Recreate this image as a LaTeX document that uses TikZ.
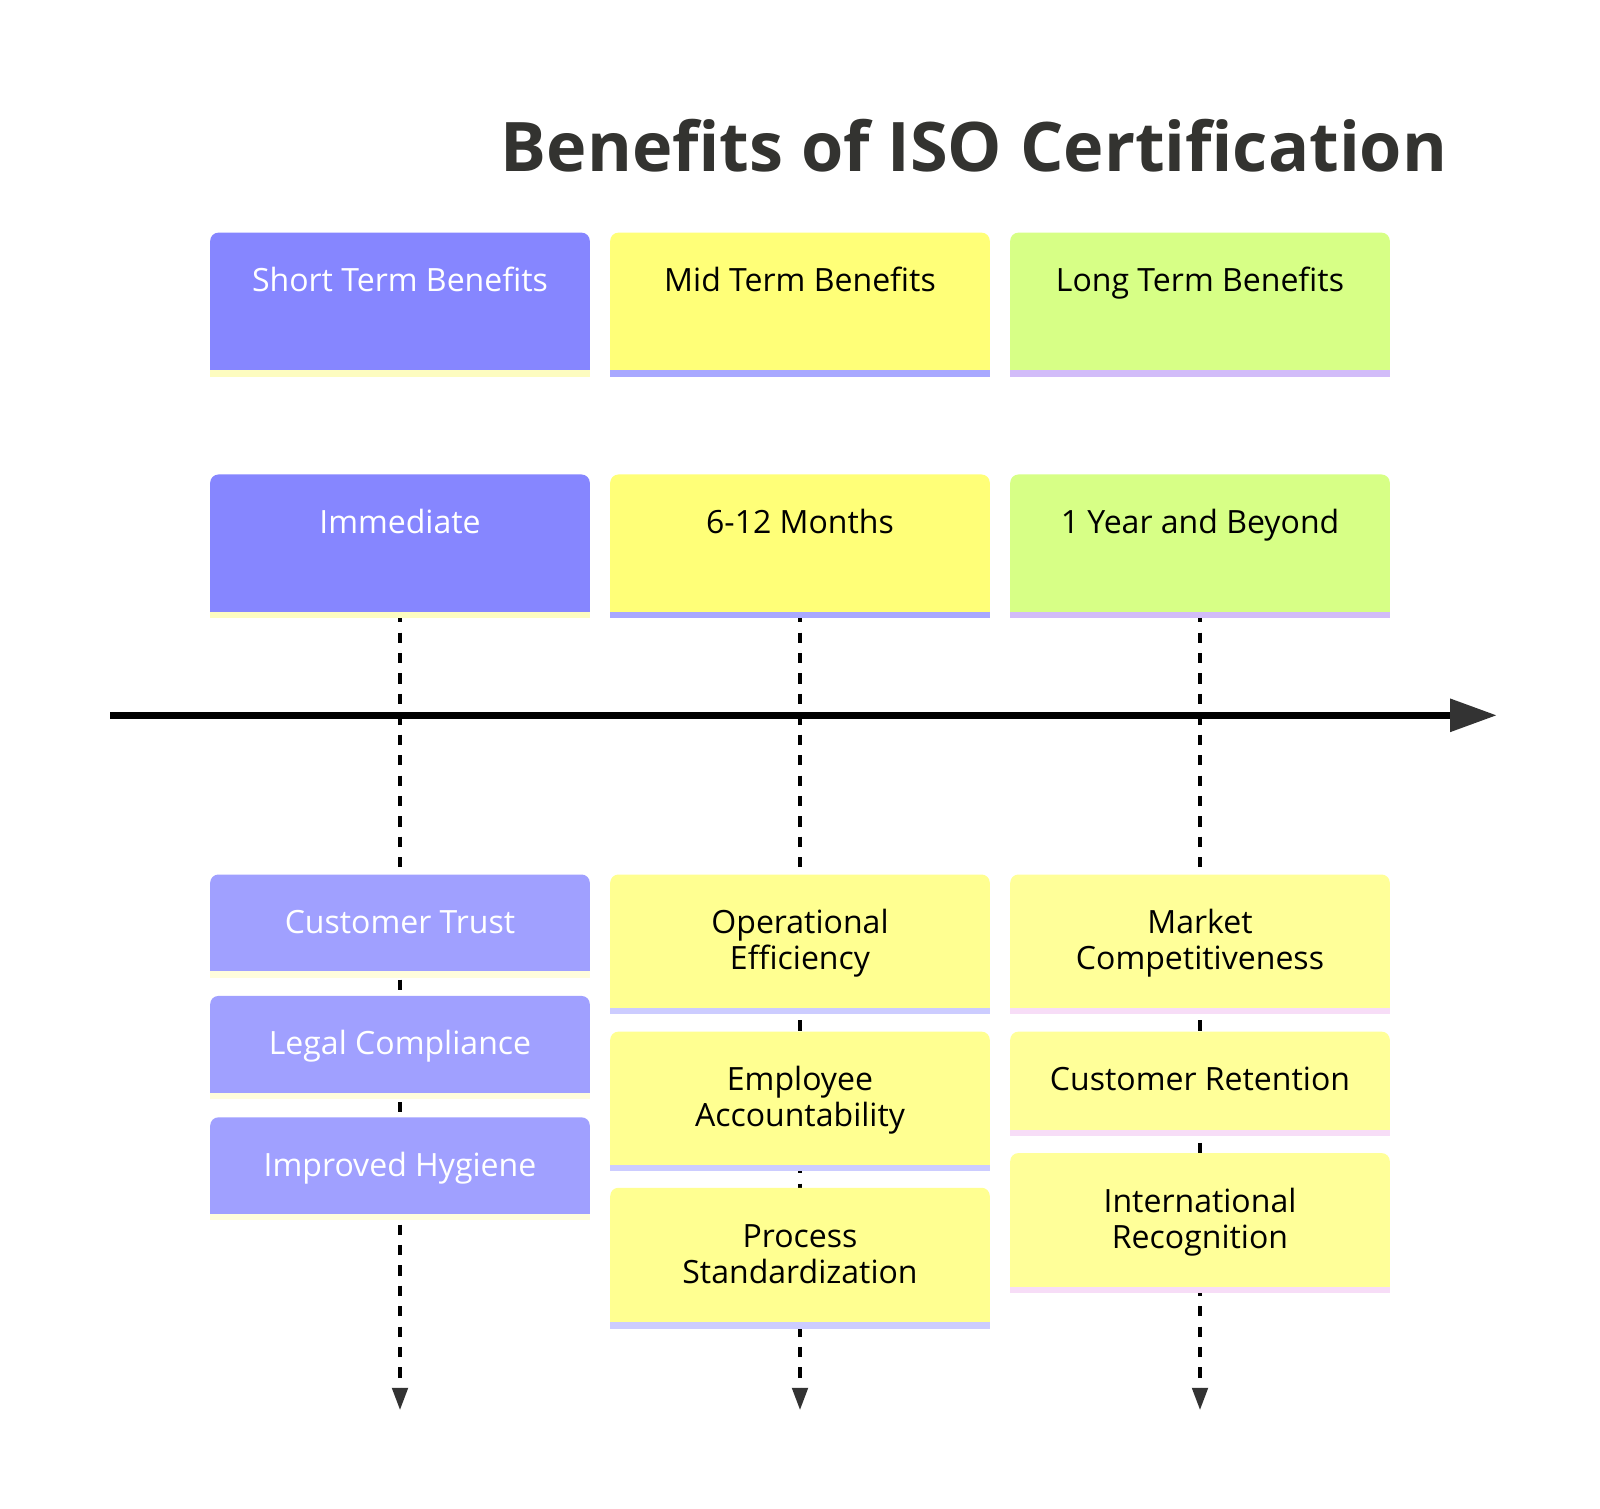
\documentclass[tikz,border=0pt]{standalone}
\usepackage{fontspec}
\setmainfont{Open Sans}
\usetikzlibrary{arrows.meta}
\pgfdeclarelayer{background}
\pgfsetlayers{background,main}
\definecolor{shortsec}{HTML}{8686FF}
\definecolor{shortsecS}{HTML}{FDFCC0}
\definecolor{shortev}{HTML}{A0A0FF}
\definecolor{shortevS}{HTML}{FFFDDC}
\definecolor{midsec}{HTML}{FFFF78}
\definecolor{midsecS}{HTML}{A8A8FF}
\definecolor{midev}{HTML}{FFFF91}
\definecolor{midevS}{HTML}{CCCCFF}
\definecolor{longsec}{HTML}{D7FF86}
\definecolor{longsecS}{HTML}{D2BCF9}
\definecolor{longev}{HTML}{FFFF99}
\definecolor{longevS}{HTML}{F7DDF7}
\definecolor{titlegray}{HTML}{333330}
\definecolor{tipgray}{HTML}{333333}
\tikzset{
  boxbase/.style={rounded corners=8pt, minimum width=372pt, inner sep=0pt, outer sep=0pt, anchor=north},
  lbl/.style={font=\fontsize{31.4}{35.3}\selectfont, align=center, inner sep=0pt},
  evlbl/.style={lbl, yshift=-3pt},
  seclbl/.style={lbl, anchor=base},
  dashline/.style={line width=4pt, dash pattern=on 10pt off 10pt, -{Triangle[length=22pt,width=15pt,color=tipgray]}},
}
% \tlbox{name}{cx}{top}{height}{fill}{stripe}
\newcommand{\tlbox}[6]{%
  \node[boxbase, fill=#5, minimum height=#4] (#1) at (#2,#3) {};
  \fill[#5] (#1.west) rectangle (#1.south east);
  \fill[#6] (#1.south west) rectangle ([yshift=-6pt]#1.south east);
}
\begin{document}
\begin{tikzpicture}[x=1pt,y=-1pt]
\useasboundingbox (0,0) rectangle (1568,1478);

% title
\node[font=\fontsize{67}{76}\selectfont\bfseries, text=titlegray, anchor=base, inner sep=0pt] (title) at (954.5,168.5) {Benefits of ISO Certification};

% section boxes
\tlbox{secS}{392}{228}{135}{shortsec}{shortsecS}
\tlbox{secM}{784}{228}{135}{midsec}{midsecS}
\tlbox{secL}{1176}{228}{135}{longsec}{longsecS}
\node[seclbl, text=white] (secSt) at (392,286) {Short Term Benefits};
\node[seclbl, text=black] (secMt) at (784,286) {Mid Term Benefits};
\node[seclbl, text=black] (secLt) at (1176,286) {Long Term Benefits};

% period boxes
\tlbox{perS}{392}{465}{135}{shortsec}{shortsecS}
\tlbox{perM}{784}{465}{135}{midsec}{midsecS}
\tlbox{perL}{1176}{465}{135}{longsec}{longsecS}
\node[seclbl, text=white] (perSt) at (392,523) {Immediate};
\node[seclbl, text=black] (perMt) at (784,523) {6-12 Months};
\node[seclbl, text=black] (perLt) at (1176,523) {1 Year and Beyond};

% timeline
\coordinate (tlA) at (108,701);
\coordinate (tlB) at (1467,701);
\draw[line width=7pt, -{Triangle[length=46pt,width=31pt,color=tipgray]}] (tlA) -- (tlB);

% events short
\tlbox{evS1}{392}{857}{95}{shortev}{shortevS}
\tlbox{evS2}{392}{976}{95}{shortev}{shortevS}
\tlbox{evS3}{392}{1095}{95}{shortev}{shortevS}
\node[evlbl, text=white] (evS1t) at (evS1.center) {\strut Customer Trust};
\node[evlbl, text=white] (evS2t) at (evS2.center) {\strut Legal Compliance};
\node[evlbl, text=white] (evS3t) at (evS3.center) {\strut Improved Hygiene};

% events mid
\tlbox{evM1}{784}{857}{131}{midev}{midevS}
\tlbox{evM2}{784}{1011}{131}{midev}{midevS}
\tlbox{evM3}{784}{1164}{132}{midev}{midevS}
\node[evlbl] (evM1t) at (evM1.center) {\strut Operational\\\strut Efficiency};
\node[evlbl] (evM2t) at (evM2.center) {\strut Employee\\\strut Accountability};
\node[evlbl] (evM3t) at (evM3.center) {\strut Process\\\strut Standardization};

% events long
\tlbox{evL1}{1176}{857}{131}{longev}{longevS}
\tlbox{evL2}{1176}{1011}{96}{longev}{longevS}
\tlbox{evL3}{1176}{1130}{131}{longev}{longevS}
\node[evlbl] (evL1t) at (evL1.center) {\strut Market\\\strut Competitiveness};
\node[evlbl] (evL2t) at (evL2.center) {\strut Customer Retention};
\node[evlbl] (evL3t) at (evL3.center) {\strut International\\\strut Recognition};

% dashed connectors
\coordinate (endS) at (392,1382);
\coordinate (endM) at (784,1382);
\coordinate (endL) at (1176,1382);
\begin{pgfonlayer}{background}
\fill[white] (0,0) rectangle (1568,1478);
\draw[dashline] (perS.south) -- (endS);
\draw[dashline] (perM.south) -- (endM);
\draw[dashline] (perL.south) -- (endL);
\end{pgfonlayer}
\end{tikzpicture}
\end{document}
